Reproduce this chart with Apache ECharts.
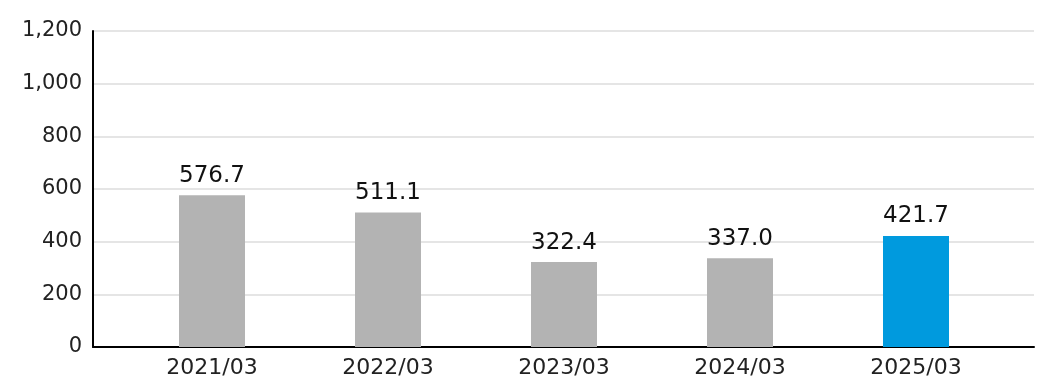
<!DOCTYPE html>
<html><head><meta charset="utf-8">
<script src="https://cdn.jsdelivr.net/npm/echarts@6/dist/echarts.min.js"></script>
<style>html,body{margin:0;padding:0;background:#fff}#c{width:1040px;height:390px}</style>
</head><body><div id="c"></div>
<script>
const categories = ['2021/03','2022/03','2023/03','2024/03','2025/03'];
const values = [576.7, 511.1, 322.4, 337.0, 421.7];
const barColors = ['#b3b3b3','#b3b3b3','#b3b3b3','#b3b3b3','#009ade'];
const yMin = 0, yMax = 1200, yStep = 200;

const FONT = 'DejaVu Sans';
function fmt(v){ return String(v).replace(/\B(?=(\d{3})+(?!\d))/g, ','); }

const chart = echarts.init(document.getElementById('c'), null, {renderer:'canvas'});
chart.setOption({
  animation:false,
  backgroundColor:'#fff',
  grid:[
    {left:93, right:6, top:31, bottom:43},
    {left:124, right:36, top:31, bottom:43}
  ],
  xAxis:[
    {gridIndex:0, type:'value', min:0, max:1, axisLine:{show:true, onZero:false, lineStyle:{color:'#000', width:2}},
     axisTick:{show:false}, axisLabel:{show:false}, splitLine:{show:false}},
    {gridIndex:1, type:'category', data:categories, axisLine:{show:false}, axisTick:{show:false},
     axisLabel:{color:'#222', fontFamily:FONT, fontSize:22, margin:10}}
  ],
  yAxis:[
    {gridIndex:0, type:'value', min:yMin, max:yMax, interval:yStep,
     axisLine:{show:true, lineStyle:{color:'#000', width:2}}, axisTick:{show:false},
     axisLabel:{color:'#222', fontFamily:FONT, fontSize:21, margin:11, formatter:fmt},
     splitLine:{lineStyle:{color:'#e5e5e5', width:2}}},
    {gridIndex:1, type:'value', min:yMin, max:yMax, interval:yStep, show:false, splitLine:{show:false}}
  ],
  series:[{
    type:'bar', xAxisIndex:1, yAxisIndex:1, barWidth:66,
    data: values.map((v,i)=>({value:v, itemStyle:{color:barColors[i]}})),
    label:{show:true, position:'top', distance:8, color:'#111', fontFamily:FONT, fontSize:23,
      formatter:p=>p.value.toFixed(1)}
  }]
});
</script></body></html>
